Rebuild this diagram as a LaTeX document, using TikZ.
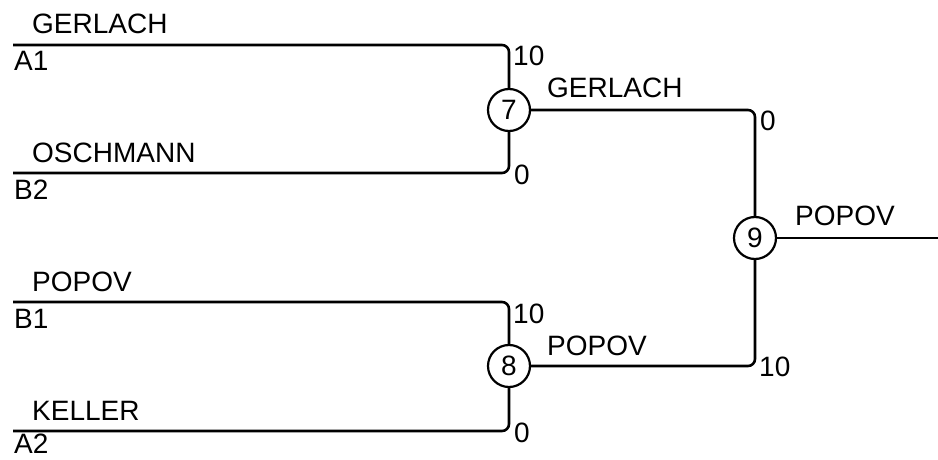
\documentclass[tikz,border=0pt]{standalone}
\usepackage{fontspec}
\setmainfont{Liberation Sans}
\begin{document}
\begin{tikzpicture}[x=1pt,y=-1pt,
  wire/.style={line width=2.6pt, rounded corners=7pt},
  game/.style={circle, draw, line width=2.2pt, minimum size=42pt, inner sep=0pt, font=\fontsize{28}{33}\selectfont},
  lbl/.style={anchor=base west, inner sep=0pt, font=\fontsize{28}{33}\selectfont}]
\useasboundingbox (0,3) rectangle (938,463);
% games
\node[game] (g7) at (509,113) {7};
\node[game] (g8) at (509,369) {8};
\node[game] (g9) at (755,241) {9};
% free ends
\coordinate (s1) at (13,48);
\coordinate (s2) at (13,176);
\coordinate (s3) at (13,305);
\coordinate (s4) at (13,434);
\coordinate (out) at (938,241);
% wires
\draw[wire] (s1) -| (g7);
\draw[wire] (s2) -| (g7);
\draw[wire] (s3) -| (g8);
\draw[wire] (s4) -| (g8);
\draw[wire] (g7) -| (g9);
\draw[wire] (g8) -| (g9);
\draw[wire] (g9) -- (out);
% names
\node[lbl] (n1) at (32,37) {GERLACH};
\node[lbl] (p1) at (14,74) {A1};
\node[lbl] (n2) at (32,165) {OSCHMANN};
\node[lbl] (p2) at (14,202) {B2};
\node[lbl] (n3) at (32,294) {POPOV};
\node[lbl] (p3) at (14,331) {B1};
\node[lbl] (n4) at (32,423) {KELLER};
\node[lbl] (p4) at (14,456) {A2};
\node[lbl] (w7) at (547,101) {GERLACH};
\node[lbl] (w8) at (547,358) {POPOV};
\node[lbl] (w9) at (795,228) {POPOV};
% scores
\node[lbl] (sc1) at (513,69) {10};
\node[lbl] (sc2) at (514,187) {0};
\node[lbl] (sc3) at (513,326) {10};
\node[lbl] (sc4) at (514,445) {0};
\node[lbl] (sc5) at (760,133) {0};
\node[lbl] (sc6) at (759,379) {10};
\end{tikzpicture}
\end{document}
